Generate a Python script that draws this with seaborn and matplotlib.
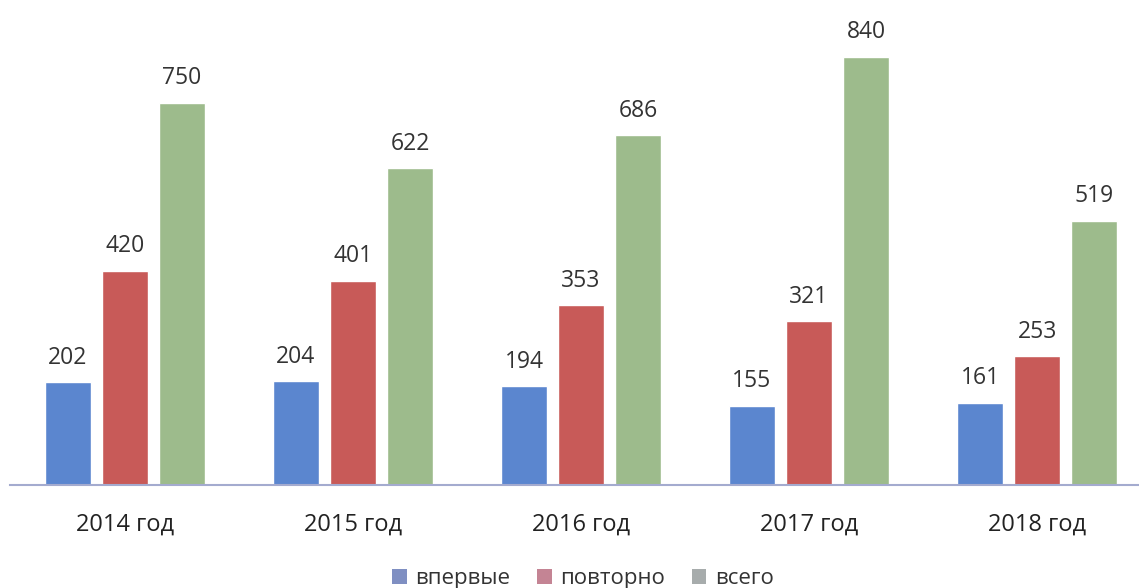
import matplotlib
matplotlib.use("Agg")
import matplotlib.pyplot as plt
from matplotlib.patches import Patch
import seaborn as sns
import pandas as pd

years = ["2014 год", "2015 год", "2016 год", "2017 год", "2018 год"]
first = [202, 204, 194, 155, 161]
repeat = [420, 401, 353, 321, 253]
total = [750, 622, 686, 840, 519]
series_names = ["впервые", "повторно", "всего"]

bar_colors = ["#5B86CF", "#C85A58", "#9DBB8C"]
legend_colors = ["#7F8FC2", "#C48494", "#A7ACAC"]

df = pd.DataFrame({
    "year": years * 3,
    "value": first + repeat + total,
    "series": [series_names[0]] * 5 + [series_names[1]] * 5 + [series_names[2]] * 5,
})

sns.set_style("white")
plt.rcParams["font.family"] = ["Open Sans", "DejaVu Sans"]

fig = plt.figure(figsize=(11.39, 5.88), dpi=100)
ax = fig.add_axes([0.0088, 0.1752, 0.9912, 0.78])

sns.barplot(data=df, x="year", y="value", hue="series", palette=bar_colors,
            width=0.75, gap=0.2, ax=ax, legend=False, saturation=1)

for cont in ax.containers:
    ax.bar_label(cont, padding=9, fontsize=16.5, color="#333333")

ax.set_xlim(-0.504, 4.447)
ax.set_ylim(0, 900)
ax.set_xlabel("")
ax.set_ylabel("")
ax.set_yticks([])
for s in ["top", "right", "left"]:
    ax.spines[s].set_visible(False)
ax.spines["bottom"].set_color("#A4ABCF")
ax.spines["bottom"].set_linewidth(1.5)
ax.tick_params(axis="x", length=0, pad=20, labelsize=17, labelcolor="#222222")

handles = [Patch(facecolor=c, edgecolor="none") for c in legend_colors]
fig.legend(handles, series_names, loc="center", bbox_to_anchor=(0.512, 0.016),
           ncol=3, frameon=False, fontsize=16, handlelength=0.65, handleheight=0.65,
           handletextpad=0.4, columnspacing=1.2, labelcolor="#333333")

fig.savefig("out.png", dpi=100)
